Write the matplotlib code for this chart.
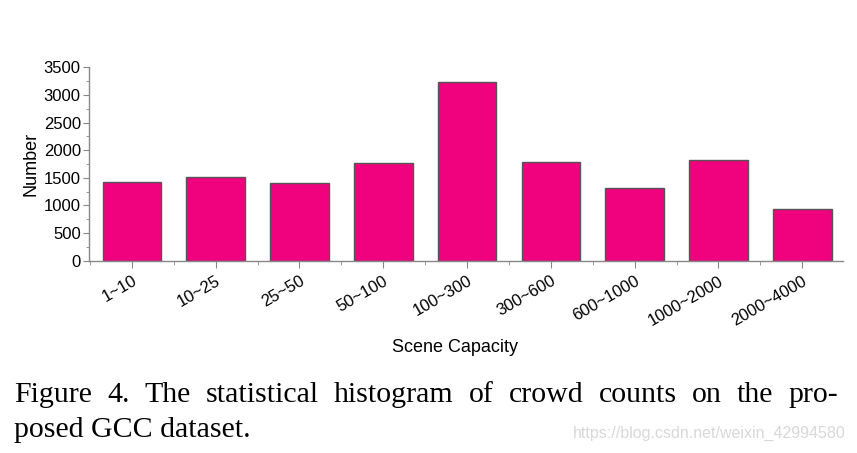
import matplotlib
matplotlib.use("Agg")
import matplotlib.pyplot as plt
from matplotlib.ticker import MultipleLocator

categories = ["1~10", "10~25", "25~50", "50~100", "100~300", "300~600", "600~1000", "1000~2000", "2000~4000"]
values = [1430, 1515, 1411, 1768, 3239, 1792, 1310, 1822, 935]
caption_line1 = "Figure 4. The statistical histogram of crowd counts on the pro-"
caption_line2 = "posed GCC dataset."

plt.rcParams['font.family'] = ['Liberation Sans', 'DejaVu Sans']
fig = plt.figure(figsize=(8.57, 4.53), dpi=100)
ax = fig.add_axes([0.104, 0.4245, 0.880, 0.427])
x = list(range(len(categories)))
ax.bar(x, values, width=0.7, color='#F0027F', edgecolor='#555555', linewidth=1.0)
ax.set_xlim(-0.51, 8.49)
ax.set_ylim(0, 3500)
ax.yaxis.set_major_locator(MultipleLocator(500))
ax.yaxis.set_minor_locator(MultipleLocator(250))
ax.set_xticks(x)
ax.set_xticks([i + 0.5 for i in x[:-1]] + [-0.5], minor=True)
ax.set_xticklabels(categories, rotation=30, ha='right', rotation_mode='anchor', fontsize=12)
ax.tick_params(axis='x', which='major', length=5, color='#888888', pad=4)
ax.tick_params(axis='x', which='minor', length=3, color='#888888')
ax.tick_params(axis='y', which='major', length=4, color='#888888', labelsize=12, pad=2)
ax.tick_params(axis='y', which='minor', length=2, color='#888888')
for s in ['top', 'right']:
    ax.spines[s].set_visible(False)
for s in ['left', 'bottom']:
    ax.spines[s].set_color('#888888')
    ax.spines[s].set_linewidth(1.0)
ax.set_ylabel("Number", fontsize=13, labelpad=3)
fig.text(0.531, 1 - 348 / 453, "Scene Capacity", ha='center', va='center', fontsize=13)

serif = ['Liberation Serif', 'DejaVu Serif']
cap_fs = 21.5
fig.canvas.draw()
renderer = fig.canvas.get_renderer()
left_px, right_px = 14, 838
words = caption_line1.split(" ")
widths = []
for w in words:
    t = fig.text(0, 0, w, fontsize=cap_fs, family=serif)
    widths.append(t.get_window_extent(renderer).width)
    t.remove()
gap = (right_px - left_px - sum(widths)) / (len(words) - 1)
xpos = left_px
for w, wd in zip(words, widths):
    fig.text(xpos / 857, 1 - 402 / 453, w, ha='left', va='baseline', fontsize=cap_fs, family=serif)
    xpos += wd + gap
fig.text(left_px / 857, 1 - 437 / 453, caption_line2,
         ha='left', va='baseline', fontsize=cap_fs, family=serif)
fig.text(846 / 857, 1 - 433 / 453, "https://blog.csdn.net/weixin_42994580",
         ha='right', va='center', fontsize=11.5, color='#d8d8d8')

fig.savefig("out.png", dpi=100)
